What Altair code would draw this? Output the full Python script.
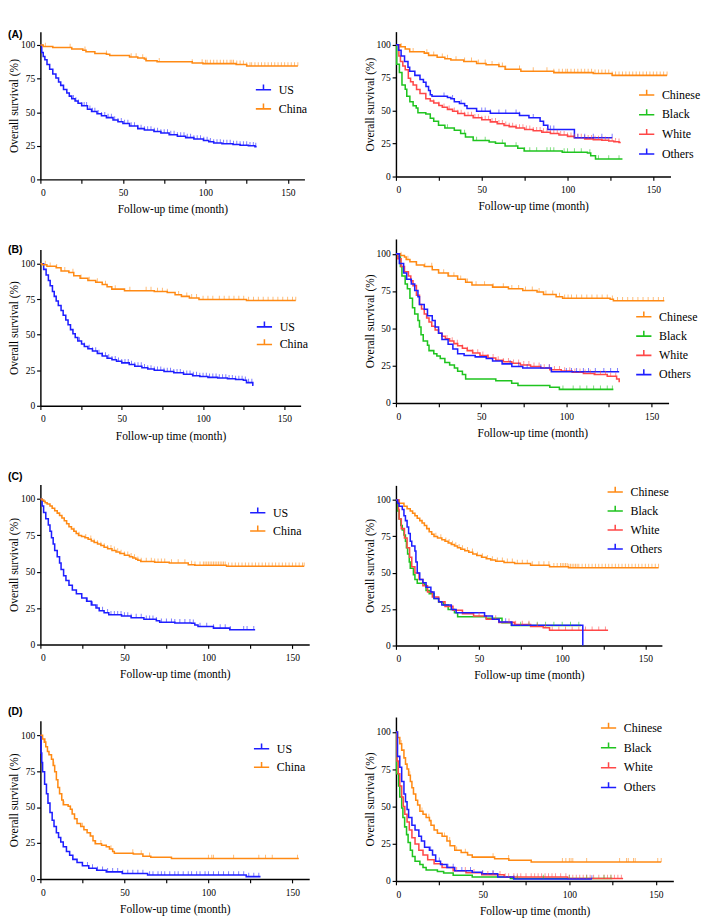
import altair as alt
import pandas as pd

SERIF = "Liberation Serif, Times New Roman, serif"
BLUE = "#1e1eff"
ORANGE = "#ff8a14"
GREEN = "#1fc41f"
RED = "#ff4848"

# ---------------- Panel A ----------------
A_US = [(0,100),(0.8,94.4),(1.7,91.5),(2.7,89),(4,85.5),(5.6,82),(7.5,78.5),(9.4,75.5),(11,72.5),(12.3,70),
        (14,67),(16,64.4),(17.5,62),(19,60),(21,58.3),(22.8,56.7),(25,54.8),(28.5,52.2),(31,50.5),(34.3,48.9),
        (37,47.4),(40,46),(44,44.2),(47,42.9),(50,41.6),(54,39.8),(59,37.8),(63,36.8),(68.8,35.6),(73,34.5),
        (78,33.3),(83,32.2),(88,31.1),(93,30),(98.8,28.9),(102,28),(105,27.1),(110,26.6),(116.7,26),(121,25.5),
        (126,25.1),(130,24.4),(131,24.4)]
A_US_C = [20,21.5,23,25,26.5,28,30,31.5,33,35,37,39,41,43,45,47,49,51,53,55,57,59,61,63,65,67,69,71,73,75,77,79,
          81,83,85,87,89,91,93,95,97,99,101,103,105,107,109,111,113,115,117,119,121,123,125,127,129,130.5]
A_CHINA = [(0,100),(1.7,98.9),(7.5,98.2),(19,97.1),(25.7,96.2),(27.6,95.1),(33,93.8),(40,93.1),(42,92.2),(54,91.1),
           (59,90.4),(63,89.6),(64,88.4),(70.7,87.6),(92,86.7),(98.5,86.2),(118.6,85.6),(125,84.4),(156,84.4)]
A_CHINA_C = [3,18,27,40,55,58,62,64,72,92,98,100,101,103,105,107,109,111,113,115,116,117,119,121,123,125,127,128,
             130,132,134,136,138,140,142,144,146,148,150,152,154,156]

A_CHINESE = [(0,100),(2.6,98.5),(5.4,96.8),(8,94.7),(16.5,93.7),(19,92),(24,90.5),(28.5,89.5),(32,88.4),(39.5,87.4),
             (47,85.9),(52.5,84.8),(60,83.6),(63.6,81.5),(72.8,80),(92,78.9),(115,78.3),(126,76.8),(158,76.8)]
A_CHINESE_C = [3,10,18,22,27,30,35,40,44,48,52,56,60,62,64,72,80,88,92,95,97,99,100,102,104,106,108,110,112,114,
               116,118,120,122,124,126,128,130,132,134,136,138,140,142,144,146,148,150,152,154,156,158]
A_BLACK = [(0,100),(0.4,85.3),(2,79),(3.5,69.5),(5.4,66.3),(6.3,61),(8.1,56.8),(10,53.7),(11.8,52),(12.8,48.4),
           (17.4,47.4),(20,44.2),(22,42),(24.8,39),(28.5,36.8),(34,35.2),(37.7,32.6),(40.5,30.1),(45,27.4),
           (54.3,26.3),(58,25.3),(63.6,23.2),(71,21.5),(74.7,19.4),(96.9,18.5),(111.6,17.9),(113.5,15.8),
           (116.3,13.3),(132,13.3)]
A_BLACK_C = [30,40,47,52,62,70,75,78,82,88,90,92,98,100,104,108,113,118,124,130]
A_WHITE = [(0,100),(1.7,91.6),(2.6,87.4),(4,84),(5.4,81),(7.2,74.7),(8.5,72),(10,69.5),(12,66),(14,63),(17.4,59),
           (20,57.3),(22,55.8),(25,54),(27,52.6),(30,51),(33,49.5),(36,47.9),(40,46.3),(45,44.6),(50,43.2),
           (55,41.5),(59,40),(63,38.8),(66,37.9),(70,36.8),(75,35.8),(80,34.7),(85,33.7),(90,32.6),(95,31.6),
           (100,30.5),(104,29.5),(110,28.6),(115,28),(120,27.5),(124,27),(127,26.4),(130,25.9),(131,25.9)]
A_WHITE_C = [22,25,28,31,34,36,38,40,42,44,46,48,50,52,54,56,58,60,62,64,66,68,70,72,74,76,78,80,82,84,86,88,90,
             92,94,96,98,100,102,104,106,108,110,112,114,116,118,120,122,124,126,128,130]
A_OTHERS = [(0,100),(1.5,95.8),(3,91.6),(5,87.4),(7,83),(8,80),(11,76.8),(14,73.7),(16,71.6),(17.5,68.4),(19,65.3),
            (20,62.1),(21,61),(30,60),(32,59),(34,56.8),(37,55.4),(40,53.7),(41.4,51.6),(47,49.5),(55,48),
            (72,46.3),(77.5,44.6),(84,42),(86,39),(88.5,35.8),(104,29.5),(126,29.5)]
A_OTHERS_C = [28,33,38,50,52,55,60,64,70,72,80,86,90,92,106,110,115,120,126]

# ---------------- Panel B ----------------
B_US = [(0,100),(2,96),(3.5,92),(4.9,88.2),(6,84.5),(7.4,80.4),(8.5,77),(9.7,73.7),(11,70.5),(12.7,67),(14,63.7),
        (15.6,60.3),(17,57),(18.5,53.6),(20,50.7),(21.4,48),(23,45.6),(25.3,43.5),(27,41.8),(29.2,40.2),(32,38.5),
        (35,36.8),(38,35),(41,33.5),(44,32.4),(46.8,31.3),(50,30.2),(54.6,29),(58,27.9),(62.4,26.8),(66,25.9),
        (70,25),(76,24.1),(82,23.2),(88,22.2),(93.6,21.2),(98,20.6),(103,20),(109,19.5),(115,19),(120,18.5),
        (124.8,17.9),(126.7,16.3),(130.6,14.5),(131,14.5)]
B_US_C = [24,27,30,32,34,36,38,40,42,44,46,48,50,52,54,56,58,60,62,64,66,68,70,72,74,76,78,80,82,84,86,88,90,92,
          94,96,98,100,102,104,106,108,110,112,114,116,118,120,122,124,126,128,130]
B_CHINA = [(0,100),(1,99.3),(4,98.2),(9.7,97.1),(12.7,94.9),(17.5,93.8),(20.5,91.5),(24.4,89.7),(29.2,88.2),(34,87),
           (38,85.3),(41,83.7),(43.9,82.1),(51.7,81),(70,80.4),(78,79.7),(82.8,78.1),(86.7,77),(91.6,75.9),
           (97.5,74.8),(126.7,74.1),(157,74.1)]
B_CHINA_C = [3,6,10,15,20,25,30,35,40,46,55,65,68,72,75,78,85,90,93,96,100,103,106,110,113,116,119,122,125,128,131,
             134,137,140,143,146,149,152,155,157]

B_CHINESE = [(0,100),(2.6,98.9),(5,97.9),(6,96.2),(8.2,94.7),(12,92.6),(16.6,91.5),(21.3,89.4),(25,87.2),(30.6,85.1),
             (36.2,83),(40.9,80.9),(44.6,79.1),(56.7,77.7),(66,76.6),(74.4,75.5),(82.8,74.5),(86.6,72.8),(94,71.3),
             (97.8,70.2),(125.7,69.6),(127.6,68.5),(157.5,68.5)]
B_CHINESE_C = [3,7,12,17,21,25,28,31,34,38,42,47,52,57,63,68,72,76,80,84,88,92,96,99,101,103,106,109,112,115,118,
               121,124,127,130,133,136,139,142,145,148,151,154,157]
B_BLACK = [(0,100),(1,97.9),(2.6,91.5),(3.5,85.1),(5.4,79.8),(6.7,76.6),(8.2,70.2),(9.7,63.8),(11,59.6),(12.9,55.3),
           (13.8,51),(14.7,45.7),(16,41.5),(18.5,38.7),(19.4,35.1),(22.2,33),(24,31.5),(26,29.8),(28.7,27.2),
           (31.5,25.5),(34.3,23.4),(36.2,21.3),(39,19.1),(40.9,16),(58.6,14.9),(67.9,13.2),(71.6,11.7),
           (90.3,10.6),(95.9,9.1),(127.6,9.1)]
B_BLACK_C = [98,104,108,112,116,120,124,127]
B_WHITE = [(0,100),(1,96.8),(3,91.5),(5,88),(7.3,85.1),(8.7,82),(10,78.7),(12,72.3),(13.8,66),(15,63),(16.6,59.6),
           (18,57),(19.4,54.3),(21,51.5),(23,48.9),(25,46.8),(27,44.7),(29,43),(31.5,41.5),(34,39.8),(36.2,38.3),
           (39,36.7),(41.8,35.1),(45,33.5),(49.3,31.9),(54,30.2),(58.6,28.7),(63,27.6),(68,26.6),(73,25.5),
           (79,24.5),(85,23.4),(90.3,22.3),(97,21.4),(103.4,20.6),(110,19.8),(116.4,19.1),(124,17.9),
           (129.5,16),(131,13.8)]
B_WHITE_C = [30,33,36,39,42,45,48,51,54,57,60,63,66,69,72,75,78,81,84,87,90,93,96,99,102,105,108,111,114,117,120,
             123,126,129]
B_OTHERS = [(0,100),(2,93.6),(4.5,87.2),(6.3,83),(9,79.8),(11,75.5),(12.9,71.3),(13.8,66),(16.6,62.8),(18.5,58.5),
            (21.3,55.3),(23,51),(25,46.8),(27,42.6),(30.6,39.4),(33.4,36.2),(36.2,33),(40,31.9),(46.5,30.9),
            (53,29.8),(56.7,28.1),(62.3,26.2),(68,24.5),(74.4,23.4),(91.2,20.9),(131,20.9)]
B_OTHERS_C = [67,72,77,85,90,100,103,106,110,113,117,122,126,130]

# ---------------- Panel C ----------------
C_US = [(0,100),(1,95.2),(1.9,90.8),(3.2,86.5),(4.7,82.1),(5.7,77.8),(6.6,73.4),(7.6,69.1),(8.5,64.7),(10,60.3),
        (11.4,56),(12.3,51.6),(13.8,47.3),(15.2,44),(17,40.7),(19,37.5),(21.4,34.9),(24.6,32),(27.5,29.8),
        (30.3,27.2),(33.1,25.1),(35,23.3),(37.9,21.8),(40.7,20.5),(48.3,19.6),(54,18.5),(61.6,17.4),(69,16.3),
        (71,15.3),(80,14.9),(90,14.6),(91.9,13.5),(93.8,12.4),(103,11.3),(112.7,10.2),(127.8,10.2)]
C_US_C = [28,31,34,37,40,42,44,46,48,50,52,54,57,60,63,65,67,69,72,75,78,80,83,86,89,91,95,99,103,107,110,113,
          121,123,127]
C_CHINA = [(0,100),(1,99.3),(2,98.5),(2.8,97.4),(4,96.5),(5.7,95.2),(7,93.6),(8.5,91.9),(10,90.3),(11.4,88.7),
           (12.8,86.9),(14.2,85),(15.6,83),(17,81),(18.5,79.4),(19.9,77.8),(21.3,76.3),(22.7,74.9),(24.5,74.2),
           (26.5,73.4),(28.4,72.3),(30.3,71.2),(32,70.1),(34,69.1),(36,68),(37.9,66.9),(40,65.8),(42.6,64.7),
           (45,63.6),(47.3,62.5),(50,61.4),(53,60.3),(55,59.5),(56.8,58.6),(58,57.9),(59.7,57.1),(68,56.5),
           (76.7,56),(88,54.9),(91.9,54.5),(110.8,53.8),(157,53.8)]
C_CHINA_C = [20,23,27,30,32,34,36,38,40,42,44,46,48,50,52,54,56,58,60,63,66,68,70,72,74,78,82,86,90,92,95,97,98,
             99,100,101,102,103,104,105,106,107,108,109,110,112,114,116,118,120,122,124,126,128,130,132,134,136,
             138,140,142,144,146,148,150,152,154,156,157]

C_CHINESE = [(0,100),(2,97.8),(4.8,95.6),(6.7,94),(8.6,92.4),(10,90.8),(11.4,89.1),(12.8,87.5),(14.3,85.8),
             (15.7,84.1),(17.1,82.5),(18.5,80.3),(20,78.2),(21.5,76.5),(22.9,74.9),(25,73.8),(27.6,72.7),
             (29.5,71.6),(31.4,70.5),(33.3,69.4),(35.2,68.3),(37,67.2),(39,66.2),(41.4,65.1),(43.8,64),(46.2,62.9),
             (48.6,61.8),(51.5,60.7),(54.3,59.6),(57,58.7),(60,57.9),(65,57.1),(71.4,56.3),(81,55.2),(92.4,54.1),
             (103.8,53.5),(158,53.5)]
C_CHINESE_C = [20,24,27,30,32,34,36,38,40,43,46,49,52,55,58,61,64,67,70,73,76,79,82,86,89,92,95,97,99,100,101,102,
               103,104,105,106,107,108,109,110,112,114,116,118,120,122,124,126,128,130,132,134,136,138,140,142,
               144,146,148,150,152,154,156,158]
C_BLACK = [(0,100),(1,92.4),(1.9,86.9),(2.9,82.5),(3.8,79.3),(4.8,76),(5.7,71.6),(6.3,67.2),(7,62.9),(8,57.4),
           (8.6,53.1),(10.5,48.7),(11.4,45.4),(12.8,42.8),(17.1,41.5),(18.1,37.8),(20,35.6),(22.9,32.3),
           (25.7,29.7),(28.6,27.9),(31.4,24.7),(35.2,22.5),(37.1,19.7),(54.3,18.8),(63.8,15.7),(69.5,13.8),
           (111.4,13.8)]
C_BLACK_C = [75,80,85,90,95,100,105,110]
C_WHITE = [(0,100),(1.5,93.4),(1.9,86.9),(3.2,80.3),(5.1,73.8),(6.7,67.2),(8.2,60.7),(9.5,54.1),(11.4,49.8),
           (13.9,45.4),(16.2,41),(19,36.7),(21.9,33.4),(25.7,30.1),(29.5,26.9),(34.3,24.2),(40,21.8),(46.7,20.3),
           (54.3,18.1),(61.9,15.9),(71.4,14.4),(81,13.1),(88.6,12.2),(92.4,10.5),(127.6,10.5)]
C_WHITE_C = [50,60,68,72,76,80,85,90,94,98,102,106,110,114,118,122,126]
C_OTHERS = [(0,100),(1,97.8),(1.9,95.6),(3.8,93.4),(4.8,89.1),(5.7,85.8),(6.7,81.4),(7.6,77),(8.6,71.6),(9.5,68.3),
            (11.4,65),(12,57.4),(12.8,49.8),(14.3,45.4),(16.2,43.2),(18.1,40),(21,36.7),(22.9,32.3),(25.7,30.1),
            (27.6,27.9),(33.3,24.7),(36.2,22.5),(53.3,20.3),(58,18.1),(62,16.2),(69.5,14),(112.4,0)]
C_OTHERS_C = [62,66,70]

# ---------------- Panel D ----------------
D_US = [(0,100),(0.4,87.6),(0.8,81),(1.3,74.6),(2.5,65.9),(3.6,59.3),(4.5,52.8),(5.7,46.3),(7,40.9),(8.1,36.5),
        (9.5,32.2),(10.8,28.9),(12.1,25.7),(13.6,22.4),(15.5,19.1),(17.4,16.5),(19.3,13.7),(21.8,11.5),(25,9.3),
        (28.8,7.6),(33.5,6.1),(39.2,5),(48.7,3.9),(63.8,2.8),(122.5,1.7),(131,1.7)]
D_US_C = [25,28,31,34,37,40,43,46,49,52,55,58,61,65,67,70,72,74,77,80,82,85,88,90,93,95,98,100,103,106,109,112,
          115,118,121,124,127,130]
D_CHINA = [(0,100),(1.3,97.4),(2.3,95.2),(3.2,92),(4.2,88.7),(5.1,86.5),(6.6,83.3),(7.6,78.9),(8.5,74.6),(9.5,69.1),
           (10.4,63.7),(11.4,59.3),(12.7,55),(13.6,51.7),(16.5,50.7),(17.8,48.5),(18.9,45.2),(20.3,42),(21.8,38.7),
           (24,36.5),(25.9,34.3),(27.8,32.2),(29.7,30),(31.3,26.7),(32.6,24.6),(36.4,23.5),(39.2,22.4),(41.1,20.9),
           (43,19.1),(44,18),(55.3,17.4),(61,15.9),(65.7,15.2),(78,14.3),(153.8,14.3)]
D_CHINA_C = [3,8,14,18,25,30,33,36,42,55,60,65,100,102,103,115,130,134,138,153]

D_CHINESE = [(0,100),(0.9,96.2),(2.2,92),(3.3,87.8),(4.6,82.6),(5.5,78.4),(6.4,75.2),(7.3,71),(8.3,66.8),(9.2,62.6),
             (10.1,58.4),(11.4,54.2),(12.5,51),(13.8,46.8),(15.6,44.7),(17.4,42.6),(19.3,40.5),(20.2,37.4),(22,34.2),
             (23.9,32.1),(26.6,30),(29.4,26.9),(31.2,23.7),(33.9,20.6),(37.6,19.1),(41.3,17.4),(44,16),(56.9,14.9),
             (65.1,13.9),(78,12.8),(153,12.8)]
D_CHINESE_C = [3,8,15,19,24,28,31,35,40,56,65,96,98,100,101,102,110,129,133,134,137,138,151,153]
D_BLACK = [(0,100),(0.4,72),(1.5,63.7),(2.2,56.3),(3.3,49),(4,42.6),(5,36.3),(6.1,31.1),(7,25.8),(8.3,20.6),
           (9.5,16.4),(11,13.2),(13.8,11.1),(15.6,9),(17.4,7.4),(23.9,6.3),(27.5,5.3),(33,3.8),(44,2.7),(66,1.7),
           (124.8,1.7)]
D_BLACK_C = [70,85,100,110,120,124]
D_WHITE = [(0,100),(0.6,80.5),(1.3,72),(2.2,63.7),(3.3,56.3),(4.2,50),(5.1,44.7),(6.4,39.5),(7.7,34.2),(9.2,29),
           (11,24.8),(13.2,20.6),(15.6,17.4),(18.3,14.3),(22,11.6),(26.6,9),(33,6.9),(40.4,5.5),(49.5,4.2),
           (62.4,2.7),(99,1.7),(131,1.7)]
D_WHITE_C = [35,40,45,50,53,56,60,63,65,68,70,72,75,78,80,82,84,86,88,90,92,95,98,100,102,104,106,108,110,112,
             114,117,120,122,124,126,128,130]
D_OTHERS = [(0,100),(0.9,83.6),(2.2,76.3),(3.3,66.8),(4.6,58.4),(5.5,53.2),(6.4,47.9),(7.3,42.6),(9.2,37.4),
            (11,34.2),(13.2,30),(14.7,26.9),(16.5,22.7),(19.3,20.6),(21.1,17.4),(22.9,13.2),(25.7,11.1),(29.4,9),
            (33.9,6.9),(44,5.9),(49.5,4.8),(58.7,2.7),(67.9,1.3),(113,1.3)]
D_OTHERS_C = [20,25,30,33,38,43,50,56,68,113]

PANEL_LABELS = ["(A)", "(B)", "(C)", "(D)"]
X_TITLE = "Follow-up time (month)"
Y_TITLE = "Overall survival (%)"
LEGEND_SYMBOL = "M-1,0H1M0,0V-0.7"


def surv_at(curve, t):
    v = curve[0][1]
    for tt, ss in curve:
        if tt <= t:
            v = ss
        else:
            break
    return v


def panel(curves, width, height, lx, ly, rp, tag=None, tag_y=0):
    line_rows, cens_rows = [], []
    for name, color, pts, cens in curves:
        for i, (t, s) in enumerate(pts):
            line_rows.append({"g": name, "t": t, "s": s, "o": i})
        for c in cens:
            cens_rows.append({"g": name, "t": c, "s": surv_at(pts, c)})
    names = [c[0] for c in curves]
    colors = [c[1] for c in curves]
    cscale = alt.Scale(domain=names, range=colors)
    x = alt.X("t:Q", scale=alt.Scale(domain=[0, 160], nice=False),
              axis=alt.Axis(values=[0, 25, 50, 75, 100, 125, 150], title=X_TITLE,
                            labelExpr="datum.value % 50 == 0 ? datum.label : ''",
                            labelPadding=5, titlePadding=7))
    y = alt.Y("s:Q", scale=alt.Scale(domain=[0, 110], nice=False),
              axis=alt.Axis(values=[0, 25, 50, 75, 100], title=Y_TITLE,
                            labelPadding=2, titlePadding=0))
    legend = alt.Legend(title=None, orient="none", legendX=lx, legendY=ly,
                        symbolType=LEGEND_SYMBOL, symbolSize=256, symbolStrokeWidth=1.6,
                        symbolFillColor="transparent",
                        labelFont=SERIF, labelFontSize=12.5, labelColor="black",
                        labelOffset=7, rowPadding=rp, padding=0)
    lines = alt.Chart(pd.DataFrame(line_rows)).mark_line(
        interpolate="step-after", strokeWidth=1.6).encode(
        x=x, y=y,
        color=alt.Color("g:N", scale=cscale, sort=names, legend=legend),
        order="o:Q")
    ticks = alt.Chart(pd.DataFrame(cens_rows)).mark_tick(
        orient="vertical", size=4, thickness=1, yOffset=-2, opacity=0.6).encode(
        x=x, y=y,
        color=alt.Color("g:N", scale=cscale, sort=names, legend=None))
    layers = [lines, ticks]
    if tag is not None:
        lab = alt.Chart(pd.DataFrame({"lab": [tag]})).mark_text(
            align="left", baseline="top", font="Liberation Sans, Arial, sans-serif", fontSize=11,
            fontWeight="bold", color="black").encode(
            text="lab:N", x=alt.value(-34), y=alt.value(-tag_y))
        layers.append(lab)
    return alt.layer(*layers).properties(width=width, height=height)


def indep(ch):
    return ch.resolve_scale(color="independent").resolve_legend(color="independent")


two = lambda us, china, usc, chc: [("US", BLUE, us, usc), ("China", ORANGE, china, chc)]


def four(ch, bl, wh, ot, chc, blc, whc, otc):
    return [("Chinese", ORANGE, ch, chc), ("Black", GREEN, bl, blc),
            ("White", RED, wh, whc), ("Others", BLUE, ot, otc)]


pA_L = panel(two(A_US, A_CHINA, A_US_C, A_CHINA_C), 277, 155, 225, 52, 4, PANEL_LABELS[0], 2)
pB_L = panel(two(B_US, B_CHINA, B_US_C, B_CHINA_C), 273, 164, 226, 72.2, 2.5, PANEL_LABELS[1], 5)
pC_L = panel(two(C_US, C_CHINA, C_US_C, C_CHINA_C), 282, 168, 219, 20.7, 3.1, PANEL_LABELS[2], 14)
pD_L = panel(two(D_US, D_CHINA, D_US_C, D_CHINA_C), 282, 166, 223, 20.3, 3.5, PANEL_LABELS[3], 15)

pA_R = panel(four(A_CHINESE, A_BLACK, A_WHITE, A_OTHERS, A_CHINESE_C, A_BLACK_C, A_WHITE_C, A_OTHERS_C),
             288, 152, 254, 57.5, 4.6)
pB_R = panel(four(B_CHINESE, B_BLACK, B_WHITE, B_OTHERS, B_CHINESE_C, B_BLACK_C, B_WHITE_C, B_OTHERS_C),
             286, 172, 251, 72.7, 4.2)
pC_R = panel(four(C_CHINESE, C_BLACK, C_WHITE, C_OTHERS, C_CHINESE_C, C_BLACK_C, C_WHITE_C, C_OTHERS_C),
             279, 168, 221, -2, 3.9)
pD_R = panel(four(D_CHINESE, D_BLACK, D_WHITE, D_OTHERS, D_CHINESE_C, D_BLACK_C, D_WHITE_C, D_OTHERS_C),
             291, 172, 214, 2.5, 4.8)

left = indep(alt.vconcat(indep(alt.vconcat(pA_L, pB_L, spacing=31.5)),
                         indep(alt.vconcat(pC_L, pD_L, spacing=28)), spacing=31))
right = indep(alt.vconcat(indep(alt.vconcat(pA_R, pB_R, spacing=28.5)),
                          indep(alt.vconcat(pC_R, pD_R, spacing=38)), spacing=47))

chart = indep(alt.hconcat(left, right, spacing=57)).properties(
    padding=0, background="white").configure_axis(
    domainColor="black", domainWidth=1.5, tickColor="black", tickWidth=1.2, tickSize=4,
    labelFont=SERIF, labelFontSize=10, labelColor="black",
    titleFont=SERIF, titleFontSize=12, titleFontWeight="normal", titleColor="black",
    grid=False).configure_view(stroke=None)

chart.save("out.html", embed_options={"renderer": "svg", "actions": False})
